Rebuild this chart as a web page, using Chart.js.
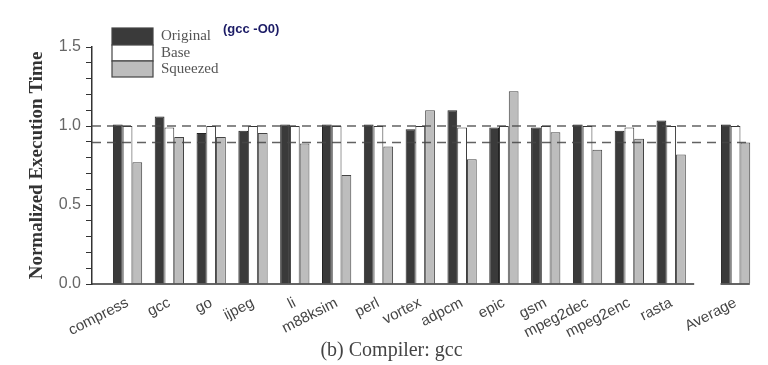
<!DOCTYPE html>
<html>
<head>
<meta charset="utf-8">
<script src="https://cdn.jsdelivr.net/npm/chart.js@4/dist/chart.umd.min.js"></script>
<style>
  html, body { margin: 0; padding: 0; background: #fff; }
  #wrap { width: 768px; height: 365px; }
</style>
</head>
<body>
<div id="wrap"><canvas id="execChart" width="768" height="365"></canvas></div>
<script>
var benchmarks = ['compress', 'gcc', 'go', 'ijpeg', 'li', 'm88ksim', 'perl', 'vortex',
    'adpcm', 'epic', 'gsm', 'mpeg2dec', 'mpeg2enc', 'rasta', 'Average'];
// x slot of each group (Average sits a bit apart from the rest)
var slots = [0, 1, 2, 3, 4, 5, 6, 7, 8, 9, 10, 11, 12, 13, 14.54];

var original = [1.01, 1.06, 0.955, 0.97, 1.01, 1.01, 1.01, 0.98, 1.10, 0.99, 0.99, 1.01, 0.97, 1.035, 1.01];
var base     = [1.00, 0.99, 1.00, 1.00, 1.00, 1.00, 1.00, 1.00, 0.99, 1.00, 1.00, 1.00, 0.99, 1.00, 1.00];
var squeezed = [0.77, 0.93, 0.93, 0.955, 0.89, 0.69, 0.87, 1.10, 0.79, 1.22, 0.96, 0.85, 0.92, 0.82, 0.895];

var refLines = [1.0, 0.895];
var yTicks = [0.0, 0.5, 1.0, 1.5];

var seriesNames = ['Original', 'Base', 'Squeezed'];
var fills = ['#3a3a3a', '#ffffff', '#bdbdbd'];
var edges = ['#222222', '#333333', '#444444'];

function toPoints(values) {
    return values.map(function (v, i) { return { x: slots[i], y: v }; });
}

var decorPlugin = {
    id: 'decor',
    afterDatasetsDraw: function (chart) {
        var ctx = chart.ctx;
        var xs = chart.scales.x, ys = chart.scales.y;
        var area = chart.chartArea;

        // dashed reference lines
        ctx.save();
        ctx.strokeStyle = 'rgba(70,70,70,0.85)';
        ctx.lineWidth = 1.5;
        ctx.setLineDash([9, 6]);
        refLines.forEach(function (v, i) {
            var y = ys.getPixelForValue(v);
            ctx.beginPath();
            ctx.moveTo(area.left, y);
            ctx.lineTo(xs.getPixelForValue(i === 0 ? 14.62 : 14.85), y);
            ctx.stroke();
        });
        ctx.restore();

        // broken x axis line
        ctx.save();
        ctx.strokeStyle = '#333';
        ctx.lineWidth = 1.5;
        var y0 = ys.getPixelForValue(0);
        ctx.beginPath();
        ctx.moveTo(area.left, y0);
        ctx.lineTo(xs.getPixelForValue(13.55), y0);
        ctx.moveTo(xs.getPixelForValue(14.18), y0);
        ctx.lineTo(xs.getPixelForValue(14.88), y0);
        ctx.stroke();
        ctx.restore();
    },
    afterDraw: function (chart) {
        var ctx = chart.ctx;
        ctx.save();
        // legend, stacked boxes
        var top = [28, 45, 61];
        var bottom = [45, 61, 77];
        for (var i = 0; i < seriesNames.length; i++) {
            ctx.fillStyle = fills[i];
            ctx.fillRect(112, top[i], 41, bottom[i] - top[i]);
            ctx.strokeStyle = '#444';
            ctx.lineWidth = 1.2;
            ctx.strokeRect(112, top[i], 41, bottom[i] - top[i]);
            ctx.fillStyle = '#555';
            ctx.font = '15px "Liberation Serif", serif';
            ctx.textBaseline = 'middle';
            ctx.textAlign = 'left';
            ctx.fillText(seriesNames[i], 161, (top[i] + bottom[i]) / 2);
        }
        ctx.fillStyle = '#1c1c66';
        ctx.font = 'bold 13px "Liberation Sans", Arial, sans-serif';
        ctx.fillText('(gcc -O0)', 223, 29);
        ctx.restore();
    }
};

var ctxBar = document.getElementById('execChart');
new Chart(ctxBar, {
    type: 'bar',
    data: {
        datasets: seriesNames.map(function (name, i) {
            return {
                label: name,
                data: toPoints([original, base, squeezed][i]),
                backgroundColor: fills[i],
                borderColor: edges[i],
                borderWidth: 1,
                categoryPercentage: 0.7,
                barPercentage: 1.0
            };
        })
    },
    options: {
        responsive: false,
        animation: false,
        layout: {
            padding: { left: 24, right: 9, top: 47, bottom: 0 }
        },
        plugins: {
            legend: { display: false },
            tooltip: { enabled: false },
            title: {
                display: true,
                position: 'bottom',
                text: '(b) Compiler: gcc',
                color: '#444',
                font: { family: '"Liberation Serif", serif', size: 20, weight: 'normal' },
                padding: { top: 0, bottom: 2 }
            }
        },
        scales: {
            x: {
                type: 'linear',
                offset: false,
                min: -0.85,
                max: 15.1,
                border: { display: false },
                grid: { display: false, offset: false },
                afterBuildTicks: function (scale) {
                    scale.ticks = slots.map(function (s) { return { value: s }; });
                },
                afterFit: function (scale) {
                    scale.height = 55;
                },
                ticks: {
                    autoSkip: false,
                    minRotation: 27,
                    maxRotation: 27,
                    padding: 2,
                    color: '#444',
                    font: { family: '"Liberation Sans", Arial, sans-serif', size: 15 },
                    callback: function (value, index) {
                        return benchmarks[index];
                    }
                }
            },
            y: {
                min: 0,
                max: 1.5,
                border: { display: true, color: '#333', width: 1.5 },
                grid: { drawOnChartArea: false, drawTicks: true, tickLength: 6, tickColor: '#333' },
                afterFit: function (scale) {
                    scale.width = 92 - 24;
                },
                title: {
                    display: true,
                    text: 'Normalized Execution Time',
                    color: '#333',
                    font: { family: '"Liberation Serif", serif', size: 19, weight: 'bold' },
                    padding: { top: 2, bottom: 0 }
                },
                ticks: {
                    stepSize: 0.1,
                    autoSkip: false,
                    padding: 5,
                    color: '#666',
                    font: { family: '"Liberation Sans", Arial, sans-serif', size: 16 },
                    callback: function (value) {
                        for (var k = 0; k < yTicks.length; k++) {
                            if (Math.abs(value - yTicks[k]) < 1e-6) return yTicks[k].toFixed(1);
                        }
                        return '';
                    }
                }
            }
        }
    },
    plugins: [decorPlugin]
});
</script>
</body>
</html>
